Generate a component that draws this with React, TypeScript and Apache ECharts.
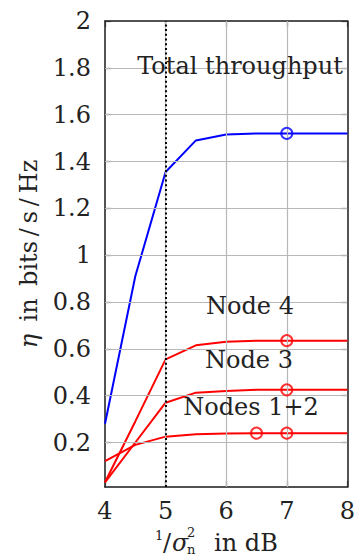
import React, { useEffect, useRef } from "react";
import * as echarts from "echarts";

const FONT = "DejaVu Serif";

// x positions (1/sigma_n^2 in dB)
const xValues = [4, 4.5, 5, 5.5, 6, 6.5, 7, 7.5, 8];
// series values (eta in bits/s/Hz)
const totalThroughput = [0.28, 0.91, 1.355, 1.49, 1.515, 1.52, 1.52, 1.52, 1.52];
const node4 = [0.03, 0.29, 0.555, 0.615, 0.63, 0.635, 0.635, 0.635, 0.635];
const node3 = [0.03, 0.2, 0.37, 0.413, 0.42, 0.425, 0.425, 0.425, 0.425];
const nodes12 = [0.12, 0.19, 0.225, 0.235, 0.238, 0.24, 0.24, 0.24, 0.24];
// marker positions (x values)
const totalMarkers = [7];
const node4Markers = [7];
const node3Markers = [7];
const nodes12Markers = [6.5, 7];
// ticks
const xTicks = [4, 5, 6, 7, 8];
const xGrid = [5, 6, 7];
const yTicks = [0.2, 0.4, 0.6, 0.8, 1, 1.2, 1.4, 1.6, 1.8, 2];
const refX = 5;

const BLUE = "#0000ff";
const RED = "#ff0000";
const TEXT = "#222";
const GRID = "#b8b8b8";

export default function App() {
  const ref = useRef<HTMLDivElement>(null);
  useEffect(() => {
    const chart = echarts.init(ref.current!, null, { renderer: "svg" });
    const pair = (xs: number[], ys: number[]) => xs.map((x, i) => [x, ys[i]]);
    const markerPts = (mx: number[], ys: number[]) => mx.map((x) => [x, ys[xValues.indexOf(x)]]);
    const axisLineStyle = { color: "#1a1a1a", width: 1.5 };
    const tickStyle = () => ({ show: true, inside: true, length: 6, lineStyle: { color: "#333", width: 1.2 } });

    const lineSeries = (data: number[], color: string) => ({
      type: "line",
      data: pair(xValues, data),
      symbol: "none",
      showSymbol: false,
      lineStyle: { color, width: 2 },
      itemStyle: { color },
      z: 3,
      silent: true,
    });
    const markerSeries = (mx: number[], data: number[], color: string) => ({
      type: "scatter",
      data: markerPts(mx, data),
      symbol: "circle",
      symbolSize: 11,
      itemStyle: { color: "transparent", borderColor: color, borderWidth: 2 },
      z: 5,
      silent: true,
    });

    const txt = (text: string, x: number, y: number, fontSize: number, align = "left", italic = false) => ({
      type: "text",
      x,
      y,
      z: 10,
      silent: true,
      style: {
        text,
        fontSize,
        fontFamily: FONT,
        fontStyle: italic ? "italic" : "normal",
        fill: TEXT,
        align,
        verticalAlign: "middle",
      },
    });

    const option: any = {
      animation: false,
      textStyle: { fontFamily: FONT },
      grid: { left: 105, top: 21, width: 247, height: 466 },
      xAxis: [
        {
          type: "value",
          min: xTicks[0],
          max: xTicks[xTicks.length - 1],
          interval: 1,
          position: "bottom",
          axisLine: { show: true, onZero: false, lineStyle: axisLineStyle },
          axisTick: tickStyle(),
          axisLabel: { fontSize: 24, fontFamily: FONT, color: TEXT, margin: 12 },
          splitLine: { show: false },
        },
        {
          type: "value",
          min: xTicks[0],
          max: xTicks[xTicks.length - 1],
          interval: 1,
          position: "top",
          axisLine: { show: true, onZero: false, lineStyle: axisLineStyle },
          axisTick: tickStyle(),
          axisLabel: { show: false },
          splitLine: { show: false },
        },
      ],
      yAxis: [
        {
          type: "value",
          min: 0.01,
          max: 2,
          position: "left",
          axisLine: { show: true, onZero: false, lineStyle: axisLineStyle },
          axisTick: { ...tickStyle(), customValues: yTicks },
          axisLabel: {
            customValues: yTicks,
            formatter: (v: number) => String(v),
            fontSize: 24,
            fontFamily: FONT,
            color: TEXT,
            margin: 14,
          },
          splitLine: { show: false },
          name: "{i|η} \u2009in \u2009bits\u2009/\u2009s\u2009/\u2009Hz",
          nameLocation: "middle",
          nameGap: 64,
          nameTextStyle: {
            fontSize: 24,
            fontFamily: FONT,
            color: TEXT,
            rich: { i: { fontStyle: "italic", fontSize: 24, fontFamily: FONT, color: TEXT } },
          },
        },
        {
          type: "value",
          min: 0.01,
          max: 2,
          position: "right",
          axisLine: { show: true, onZero: false, lineStyle: axisLineStyle },
          axisTick: { ...tickStyle(), customValues: yTicks },
          axisLabel: { show: false },
          splitLine: { show: false },
        },
      ],
      series: [
        {
          type: "line",
          data: [[xTicks[0], yTicks[0]]],
          symbol: "none",
          showSymbol: false,
          lineStyle: { width: 0, opacity: 0 },
          z: 1,
          silent: true,
          markLine: {
            silent: true,
            symbol: ["none", "none"],
            label: { show: false },
            lineStyle: { color: GRID, width: 1.2, type: "solid" },
            data: [
              ...yTicks.slice(0, -1).map((v) => ({ yAxis: v })),
              ...xGrid.map((v) => ({ xAxis: v })),
            ],
          },
        },
        {
          type: "line",
          data: [[xTicks[0], yTicks[0]]],
          symbol: "none",
          showSymbol: false,
          lineStyle: { width: 0, opacity: 0 },
          z: 4,
          silent: true,
          markLine: {
            silent: true,
            symbol: ["none", "none"],
            label: { show: false },
            lineStyle: { color: "#000", width: 2, type: [2, 2.7] },
            data: [{ xAxis: refX }],
          },
        },
        lineSeries(totalThroughput, BLUE),
        lineSeries(node4, RED),
        lineSeries(node3, RED),
        lineSeries(nodes12, RED),
        markerSeries(totalMarkers, totalThroughput, BLUE),
        markerSeries(node4Markers, node4, RED),
        markerSeries(node3Markers, node3, RED),
        markerSeries(nodes12Markers, nodes12, RED),
      ],
      graphic: [
        txt("Total throughput", 240, 66, 24, "center"),
        txt("Node 4", 250, 306, 24, "center"),
        txt("Node 3", 249, 360, 24, "center"),
        txt("Nodes 1+2", 251, 407, 24, "center"),
        // x-axis title: 1/sigma_n^2 in dB
        txt("1", 155, 535, 13),
        txt("/", 163, 543, 24),
        txt("σ", 172, 543, 24, "left", true),
        txt("2", 187, 532, 13),
        txt("n", 187, 549, 13),
        txt("in dB", 214, 543, 24),
      ],
    };
    chart.setOption(option);
    return () => chart.dispose();
  }, []);
  return (
    <div
      ref={ref}
      style={{ position: "fixed", left: 0, top: 0, width: 358, height: 558, background: "#fff" }}
    />
  );
}
